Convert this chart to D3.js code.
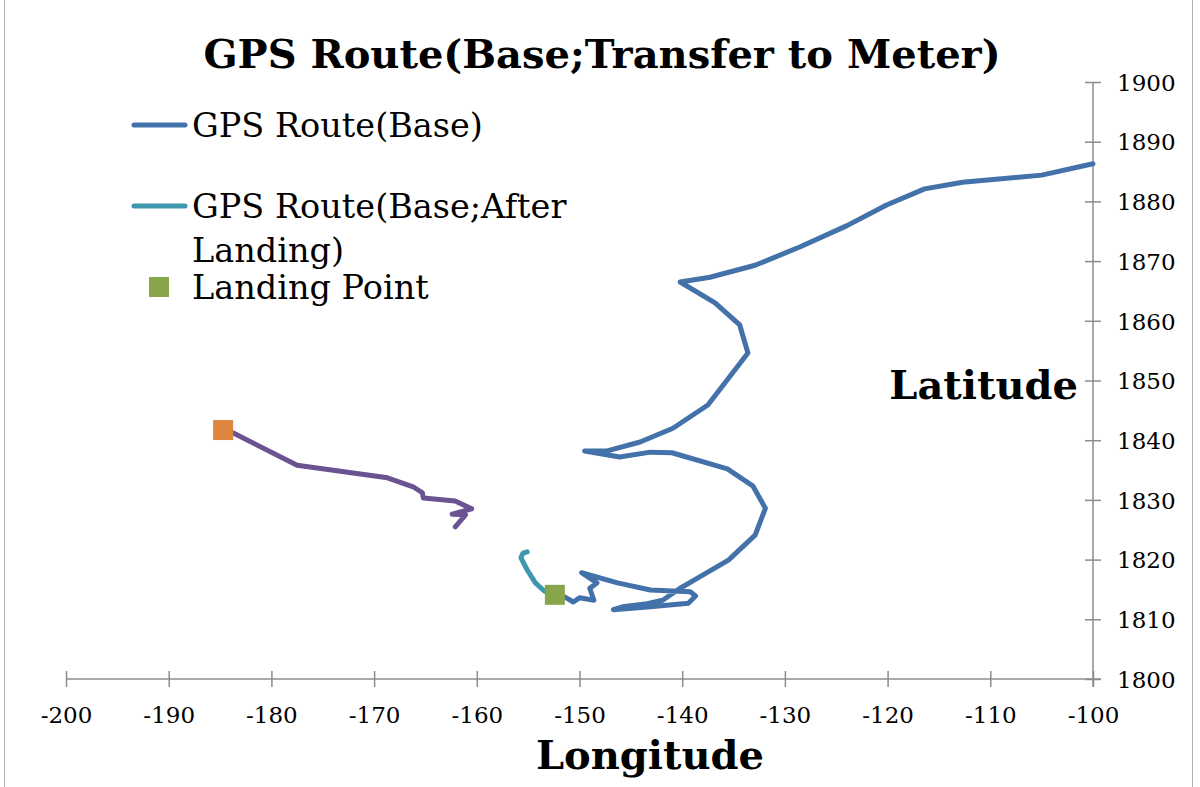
<!DOCTYPE html>
<html>
<head>
<meta charset="utf-8">
<script src="https://cdn.jsdelivr.net/npm/d3@7/dist/d3.min.js"></script>
<style>
  html, body { margin: 0; padding: 0; background: #fff; }
  svg { display: block; }
  text { font-family: "DejaVu Serif", "Liberation Serif", serif; fill: #000; }
</style>
</head>
<body>
<svg id="chart" width="1200" height="787"></svg>
<script>
// Longitude / latitude values (transferred to meters)
const routeBase = [
  [-100.0, 1886.3], [-105.0, 1884.4], [-112.7, 1883.2], [-116.4, 1882.1],
  [-120.1, 1879.4], [-124.0, 1875.9], [-128.5, 1872.4], [-132.9, 1869.3],
  [-137.3, 1867.3], [-140.2, 1866.5], [-136.8, 1863.0], [-134.4, 1859.3],
  [-133.6, 1854.6], [-137.5, 1845.9], [-140.9, 1842.0], [-144.1, 1839.7],
  [-147.3, 1838.2], [-149.5, 1838.2], [-146.1, 1837.2], [-143.1, 1838.0],
  [-141.0, 1837.9], [-135.6, 1835.2], [-133.1, 1832.3], [-131.9, 1828.6],
  [-132.9, 1824.1], [-135.5, 1819.9], [-138.3, 1817.1], [-140.2, 1815.2],
  [-141.9, 1813.2], [-143.4, 1812.6], [-145.8, 1812.1], [-146.7, 1811.6],
  [-143.1, 1812.1], [-139.4, 1812.7], [-138.7, 1813.9], [-139.2, 1814.6],
  [-143.1, 1814.9], [-146.3, 1816.1], [-149.8, 1817.8], [-148.3, 1816.1],
  [-149.0, 1815.2], [-148.6, 1813.2], [-150.0, 1813.6], [-150.6, 1812.9],
  [-151.4, 1813.7], [-152.4, 1814.1]
];
const routeAfterLanding = [
  [-152.4, 1814.1], [-153.4, 1814.7], [-154.3, 1816.1], [-155.1, 1818.3],
  [-155.7, 1820.3], [-155.5, 1821.1], [-155.1, 1821.3]
];
const routeOther = [
  [-184.7, 1841.7], [-183.7, 1841.2], [-177.5, 1835.8], [-168.7, 1833.7],
  [-166.2, 1832.2], [-165.3, 1831.2], [-165.2, 1830.3], [-162.1, 1829.8],
  [-160.5, 1828.5], [-162.4, 1827.6], [-161.1, 1827.5], [-162.1, 1825.5]
];
const landingPoint = [[-152.4, 1814.1]];
const startPoint = [[-184.7, 1841.7]];

const xTicks = [-200, -190, -180, -170, -160, -150, -140, -130, -120, -110, -100];
const yTicks = [1800, 1810, 1820, 1830, 1840, 1850, 1860, 1870, 1880, 1890, 1900];

const legendItems = [
  { label: ["GPS Route(Base)"], type: "line", color: "#4371aa" },
  { label: ["GPS Route(Base;After", "Landing)"], type: "line", color: "#3d97b0" },
  { label: ["Landing Point"], type: "square", color: "#87a64b" }
];

const svg = d3.select("#chart");

const x = d3.scaleLinear().domain([-200, -100]).range([66, 1093]);
const y = d3.scaleLinear().domain([1800, 1900]).range([679, 82]);

// outer frame of the chart area
svg.append("line").attr("x1", 4.5).attr("x2", 4.5).attr("y1", 0).attr("y2", 787)
  .attr("stroke", "#b0b0b0").attr("stroke-width", 1);
svg.append("line").attr("x1", 1192.5).attr("x2", 1192.5).attr("y1", 0).attr("y2", 787)
  .attr("stroke", "#b0b0b0").attr("stroke-width", 1);

// title
svg.append("text")
  .attr("x", 602).attr("y", 68)
  .attr("text-anchor", "middle")
  .attr("font-size", 40).attr("font-weight", "bold")
  .text("GPS Route(Base;Transfer to Meter)");

// x axis (crossing ticks)
const axisColor = "#8c8c8c";
const gx = svg.append("g").attr("transform", `translate(0,${y(1800)})`)
  .call(d3.axisBottom(x).tickValues(xTicks).tickSize(8).tickFormat(d => d));
gx.select(".domain").attr("stroke", axisColor).attr("stroke-width", 1.5)
  .attr("d", `M${x(-200)},0H${x(-100) + 8}`);
gx.selectAll(".tick line").attr("stroke", axisColor).attr("stroke-width", 1.5).attr("y1", -8);
gx.selectAll(".tick text").attr("font-family", "DejaVu Serif").attr("font-size", 23)
  .attr("fill", "#000").attr("y", 44).attr("dy", 0);

// y axis at x = -100 (crossing ticks, labels to the right)
const gy = svg.append("g").attr("transform", `translate(${x(-100)},0)`)
  .call(d3.axisRight(y).tickValues(yTicks).tickSize(8).tickFormat(d => d));
gy.select(".domain").attr("stroke", axisColor).attr("stroke-width", 1.5)
  .attr("d", `M0,${y(1900)}V${y(1800) + 8}`);
gy.selectAll(".tick line").attr("stroke", axisColor).attr("stroke-width", 1.5).attr("x1", -8);
gy.selectAll(".tick text").attr("font-family", "DejaVu Serif").attr("font-size", 23)
  .attr("fill", "#000").attr("x", 24).attr("dy", "0.36em");

// axis titles
svg.append("text").attr("x", 650).attr("y", 769).attr("text-anchor", "middle")
  .attr("font-size", 40).attr("font-weight", "bold").text("Longitude");
svg.append("text").attr("x", 1078).attr("y", 399).attr("text-anchor", "end")
  .attr("font-size", 40).attr("font-weight", "bold").text("Latitude");

// routes
const line = d3.line().x(d => x(d[0])).y(d => y(d[1]));
const drawRoute = (data, color) => svg.append("path")
  .datum(data).attr("d", line)
  .attr("fill", "none").attr("stroke", color).attr("stroke-width", 5)
  .attr("stroke-linejoin", "round").attr("stroke-linecap", "round");

drawRoute(routeOther, "#6b5290");
drawRoute(routeBase, "#4371aa");
drawRoute(routeAfterLanding, "#3d97b0");

const drawMarker = (data, color) => svg.selectAll(null).data(data).enter().append("rect")
  .attr("x", d => x(d[0]) - 10).attr("y", d => y(d[1]) - 10)
  .attr("width", 20).attr("height", 20).attr("fill", color);

drawMarker(startPoint, "#de853f");
drawMarker(landingPoint, "#87a64b");

// legend
const legendRows = [125, 206, 287];
const lg = svg.append("g");
legendItems.forEach((item, i) => {
  const cy = legendRows[i];
  if (item.type === "line") {
    lg.append("line").attr("x1", 134).attr("x2", 185).attr("y1", cy).attr("y2", cy)
      .attr("stroke", item.color).attr("stroke-width", 5).attr("stroke-linecap", "round");
  } else {
    lg.append("rect").attr("x", 149).attr("y", cy - 10).attr("width", 20).attr("height", 20)
      .attr("fill", item.color);
  }
  item.label.forEach((t, j) => {
    lg.append("text").attr("x", 192).attr("y", cy + 12 + j * 44)
      .attr("font-size", 33.5).text(t);
  });
});
</script>
</body>
</html>
